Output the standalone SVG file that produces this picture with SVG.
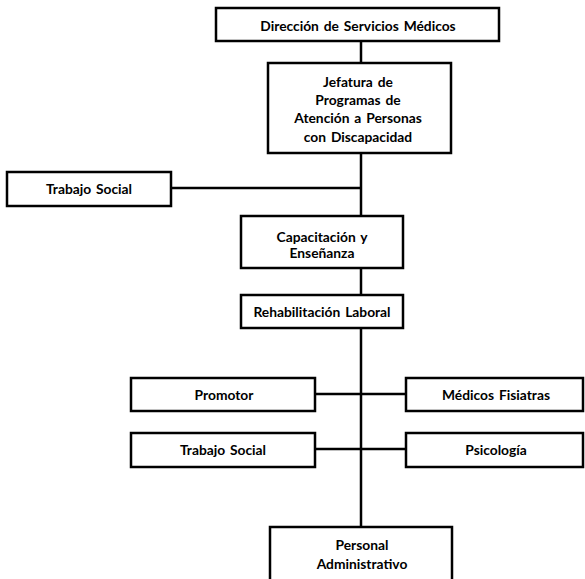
<svg xmlns="http://www.w3.org/2000/svg" width="585" height="579" viewBox="0 0 585 579">
<style>
.box{fill:#fff;stroke:#000;stroke-width:2.5}
.ln{stroke:#000;stroke-width:2.5;fill:none}
text{font-family:Lato,"Open Sans","Liberation Sans",sans-serif;font-weight:bold;font-size:13.8px;fill:#000;text-anchor:middle;word-spacing:1.5px}
</style>
<rect width="585" height="579" fill="#fff"/>
<g id="connectors">
<line class="ln" x1="361" y1="41" x2="361" y2="63"/>
<line class="ln" x1="361" y1="153" x2="361" y2="216"/>
<line class="ln" x1="171" y1="188" x2="361" y2="188"/>
<line class="ln" x1="361" y1="268" x2="361" y2="295"/>
<line class="ln" x1="361" y1="328" x2="361" y2="527"/>
<line class="ln" x1="315" y1="394" x2="406" y2="394"/>
<line class="ln" x1="315" y1="449" x2="406" y2="449"/>
</g>
<g id="direccion"><rect class="box" x="216" y="8" width="283" height="33"/><text x="358" y="31">Dirección de Servicios Médicos</text></g>
<g id="jefatura"><rect class="box" x="268" y="63" width="183" height="90"/>
<text x="358" y="87">Jefatura de</text><text x="358" y="105">Programas de</text><text x="358" y="123">Atención a Personas</text><text x="358" y="142">con Discapacidad</text></g>
<g id="trabajo1"><rect class="box" x="7" y="172" width="164" height="34"/><text x="89" y="194">Trabajo Social</text></g>
<g id="capacitacion"><rect class="box" x="241" y="216" width="162" height="52"/><text x="322" y="242">Capacitación y</text><text x="322" y="258">Enseñanza</text></g>
<g id="rehabilitacion"><rect class="box" x="241" y="295" width="162" height="33"/><text x="322" y="317">Rehabilitación Laboral</text></g>
<g id="promotor"><rect class="box" x="131" y="378" width="184" height="33"/><text x="224" y="400">Promotor</text></g>
<g id="medicos"><rect class="box" x="406" y="378" width="177" height="33"/><text x="496" y="400">Médicos Fisiatras</text></g>
<g id="trabajo2"><rect class="box" x="131" y="433" width="184" height="34"/><text x="223" y="455">Trabajo Social</text></g>
<g id="psicologia"><rect class="box" x="406" y="433" width="177" height="34"/><text x="496" y="455">Psicología</text></g>
<g id="personal"><rect class="box" x="270" y="527" width="182" height="60"/><text x="362" y="550">Personal</text><text x="362" y="569">Administrativo</text></g>
</svg>
